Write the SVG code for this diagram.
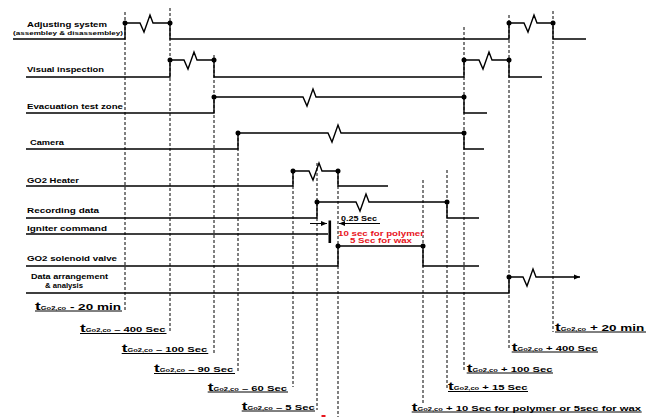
<svg xmlns="http://www.w3.org/2000/svg" width="652" height="417" viewBox="0 0 652 417">
<defs>
<style>
.sig{fill:none;stroke:#000;stroke-width:1.4;stroke-linejoin:miter}
.dash{stroke:#000;stroke-width:1;stroke-dasharray:3 2;fill:none}
.lbl{font-family:"Liberation Sans",Arial,sans-serif;font-weight:bold;font-size:7.5px;fill:#000}
.sm{font-size:6px}
.red{font-family:"Liberation Sans",Arial,sans-serif;font-weight:bold;font-size:7px;fill:#e8141c}
.tl{font-family:"Liberation Sans",Arial,sans-serif;font-weight:bold;fill:#000}
.ul{stroke:#000;stroke-width:1}
.dot{fill:#000}
.thin{stroke:#000;stroke-width:1;fill:none}
</style>
<marker id="ah" viewBox="0 0 6 6" refX="6" refY="3" markerWidth="6" markerHeight="6" orient="auto" markerUnits="userSpaceOnUse">
<path d="M0,0.5 L6,3 L0,5.5 Z" fill="#000"/>
</marker>
</defs>
<rect width="652" height="417" fill="#fff"/>

<g id="connectors">
<line class="dash" x1="125" y1="12" x2="125" y2="312"/>
<line class="dash" x1="170" y1="8" x2="170" y2="332"/>
<line class="dash" x1="214" y1="55" x2="214" y2="353"/>
<line class="dash" x1="238" y1="133" x2="238" y2="373"/>
<line class="dash" x1="293" y1="171" x2="293" y2="387"/>
<line class="dash" x1="317" y1="163" x2="317" y2="410"/>
<line class="dash" x1="338" y1="171" x2="338" y2="417"/>
<line class="dash" x1="423" y1="180" x2="423" y2="405"/>
<line class="dash" x1="447" y1="170" x2="447" y2="390"/>
<line class="dash" x1="464" y1="27" x2="464" y2="372"/>
<line class="dash" x1="509" y1="15" x2="509" y2="350"/>
<line class="dash" x1="553" y1="11" x2="553" y2="332"/>
<line x1="310" y1="223.5" x2="327" y2="223.5" class="thin" marker-end="url(#ah)"/>
<line x1="380" y1="223.5" x2="339" y2="223.5" class="thin" marker-end="url(#ah)"/>
<rect x="321.5" y="415" width="4" height="2" fill="#e8141c"/>
</g>

<g id="adjusting-system">
<text class="lbl" x="27" y="27" textLength="80" lengthAdjust="spacingAndGlyphs">Adjusting system</text>
<text class="lbl sm" x="13" y="35" textLength="110" lengthAdjust="spacingAndGlyphs">(assembley &amp; disassembley)</text>
<path class="sig" d="M13,39 H125 V23 H140 l4,9 l6,-17 l3,8 H170 V39 H509 V23 H524 l4,9 l6,-17 l3,8 H553 V39 H586"/>
<circle class="dot" cx="125" cy="23" r="2.5"/><circle class="dot" cx="170" cy="23" r="2.5"/>
<circle class="dot" cx="509" cy="23" r="2.5"/><circle class="dot" cx="553" cy="23" r="2.5"/>
</g>

<g id="visual-inspection">
<text class="lbl" x="27" y="72" textLength="77" lengthAdjust="spacingAndGlyphs">Visual inspection</text>
<path class="sig" d="M26,77 H170 V60 H184 l4,9 l6,-17 l3,8 H214 V77 H464 V60 H479 l4,9 l6,-17 l3,8 H509 V77 H542"/>
<circle class="dot" cx="170" cy="60" r="2.5"/><circle class="dot" cx="214" cy="60" r="2.5"/>
<circle class="dot" cx="464" cy="60" r="2.5"/><circle class="dot" cx="509" cy="60" r="2.5"/>
</g>

<g id="evacuation-test-zone">
<text class="lbl" x="27" y="109" textLength="96" lengthAdjust="spacingAndGlyphs">Evacuation test zone</text>
<path class="sig" d="M26,113 H214 V97 H303 l4,9 l6,-17 l3,8 H464 V113 H487"/>
<circle class="dot" cx="214" cy="97" r="2.5"/><circle class="dot" cx="464" cy="97" r="2.5"/>
</g>

<g id="camera">
<text class="lbl" x="30" y="145" textLength="34" lengthAdjust="spacingAndGlyphs">Camera</text>
<path class="sig" d="M26,149 H238 V133 H328 l4,9 l6,-17 l3,8 H464 V149 H484"/>
<circle class="dot" cx="238" cy="133" r="2.5"/><circle class="dot" cx="464" cy="133" r="2.5"/>
</g>

<g id="go2-heater">
<text class="lbl" x="27" y="183" textLength="52" lengthAdjust="spacingAndGlyphs">GO2 Heater</text>
<path class="sig" d="M26,186 H293 V171 H309 l4,9 l6,-17 l3,8 H338 V186 H388"/>
<circle class="dot" cx="293" cy="171" r="2.5"/><circle class="dot" cx="338" cy="171" r="2.5"/>
</g>

<g id="recording-data">
<text class="lbl" x="27" y="213" textLength="72" lengthAdjust="spacingAndGlyphs">Recording data</text>
<path class="sig" d="M26,218 H317 V202 H356 l4,9 l6,-17 l3,8 H447 V218 H479"/>
<circle class="dot" cx="317" cy="202" r="2.5"/><circle class="dot" cx="447" cy="202" r="2.5"/>
<text class="lbl" x="341" y="220.5" style="font-size:6.5px" textLength="36" lengthAdjust="spacingAndGlyphs">0.25 Sec</text>
</g>

<g id="igniter-command">
<text class="lbl" x="27" y="230.5" textLength="80" lengthAdjust="spacingAndGlyphs">Igniter command</text>
<path class="sig" d="M26,234 H328"/>
<rect x="328.5" y="220.5" width="2.6" height="22.5" fill="#000"/>
<text class="red" x="338" y="235.5" textLength="86" lengthAdjust="spacingAndGlyphs">10 sec for polymer</text>
<text class="red" x="350" y="242.5" textLength="62" lengthAdjust="spacingAndGlyphs">5 Sec for wax</text>
</g>

<g id="go2-solenoid-valve">
<text class="lbl" x="27" y="261" textLength="90" lengthAdjust="spacingAndGlyphs">GO2 solenoid valve</text>
<path class="sig" d="M26,266 H338 V246 H423 V266 H479"/>
<circle class="dot" cx="338" cy="246" r="2.5"/><circle class="dot" cx="423" cy="246" r="2.5"/>
</g>

<g id="data-arrangement">
<text class="lbl" x="31" y="279" textLength="77" lengthAdjust="spacingAndGlyphs">Data arrangement</text>
<text class="lbl" x="45" y="287.5" textLength="38" lengthAdjust="spacingAndGlyphs">&amp; analysis</text>
<path class="sig" d="M26,293 H509 V277 H523 l4,9 l6,-17 l3,8 H580" marker-end="url(#ah)"/>
<circle class="dot" cx="509" cy="277" r="2.5"/>
</g>

<g id="time-labels">
<g id="t-m20min">
<text class="tl" transform="translate(35,309.5) scale(1.5,1)"><tspan font-size="11.5">t</tspan><tspan font-size="5">Go2,co</tspan><tspan font-size="9"> - 20 min</tspan></text>
<line class="ul" x1="35" y1="311" x2="122" y2="311"/>
</g>
<g id="t-m400">
<text class="tl" transform="translate(80,332) scale(1.5,1)"><tspan font-size="11.5">t</tspan><tspan font-size="5">Go2,co</tspan><tspan font-size="7.5"> – 400 Sec</tspan></text>
<line class="ul" x1="80" y1="333.5" x2="166.5" y2="333.5"/>
</g>
<g id="t-m100">
<text class="tl" transform="translate(121.7,352) scale(1.5,1)"><tspan font-size="11.5">t</tspan><tspan font-size="5">Go2,co</tspan><tspan font-size="7.5"> – 100 Sec</tspan></text>
<line class="ul" x1="121.7" y1="353.5" x2="208.3" y2="353.5"/>
</g>
<g id="t-m90">
<text class="tl" transform="translate(154,372) scale(1.5,1)"><tspan font-size="11.5">t</tspan><tspan font-size="5">Go2,co</tspan><tspan font-size="7.5"> – 90 Sec</tspan></text>
<line class="ul" x1="154" y1="373.5" x2="235" y2="373.5"/>
</g>
<g id="t-m60">
<text class="tl" transform="translate(207.7,390.5) scale(1.5,1)"><tspan font-size="11.5">t</tspan><tspan font-size="5">Go2,co</tspan><tspan font-size="7.5"> – 60 Sec</tspan></text>
<line class="ul" x1="207.7" y1="392" x2="288" y2="392"/>
</g>
<g id="t-m5">
<text class="tl" transform="translate(241.7,409.5) scale(1.5,1)"><tspan font-size="11.5">t</tspan><tspan font-size="5">Go2,co</tspan><tspan font-size="7.5"> – 5 Sec</tspan></text>
<line class="ul" x1="241.7" y1="411" x2="315" y2="411"/>
</g>
<g id="t-p20min">
<text class="tl" transform="translate(555,330.5) scale(1.5,1)"><tspan font-size="11.5">t</tspan><tspan font-size="5">Go2,co</tspan><tspan font-size="9"> + 20 min</tspan></text>
<line class="ul" x1="555" y1="332" x2="646" y2="332"/>
</g>
<g id="t-p400">
<text class="tl" transform="translate(511.7,350.5) scale(1.5,1)"><tspan font-size="11.5">t</tspan><tspan font-size="5">Go2,co</tspan><tspan font-size="7.5"> + 400 Sec</tspan></text>
<line class="ul" x1="511.7" y1="352" x2="598" y2="352"/>
</g>
<g id="t-p100">
<text class="tl" transform="translate(466.7,371.5) scale(1.5,1)"><tspan font-size="11.5">t</tspan><tspan font-size="5">Go2,co</tspan><tspan font-size="7.5"> + 100 Sec</tspan></text>
<line class="ul" x1="466.7" y1="373" x2="553" y2="373"/>
</g>
<g id="t-p15">
<text class="tl" transform="translate(448,390) scale(1.5,1)"><tspan font-size="11.5">t</tspan><tspan font-size="5">Go2,co</tspan><tspan font-size="7.5"> + 15 Sec</tspan></text>
<line class="ul" x1="448" y1="391.5" x2="528" y2="391.5"/>
</g>
<g id="t-p10">
<text class="tl" transform="translate(411.7,410.5) scale(1.5,1)"><tspan font-size="11.5">t</tspan><tspan font-size="5">Go2,co</tspan><tspan font-size="7.5"> + 10 Sec for polymer or 5sec for wax</tspan></text>
<line class="ul" x1="411.7" y1="412" x2="641.7" y2="412"/>
</g>
</g>
</svg>
